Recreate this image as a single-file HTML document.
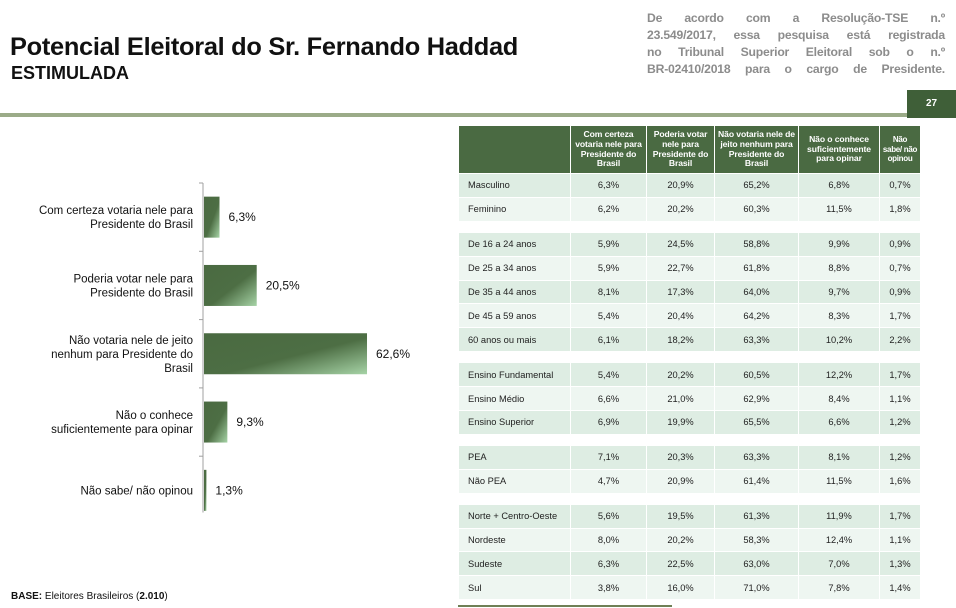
<!DOCTYPE html>
<html><head><meta charset="utf-8">
<style>
body{margin:0;width:956px;height:608px;background:#fff;font-family:"Liberation Sans",sans-serif;position:relative;overflow:hidden}
.abs{position:absolute}
#title{left:10px;top:33px;font-size:25.4px;font-weight:bold;color:#111;letter-spacing:-0.3px}
#sub{left:11px;top:63px;font-size:18px;font-weight:bold;color:#111}
#note{left:647px;top:10px;width:298px;font-size:12.2px;font-weight:bold;color:#8c8c8c;text-align:justify;text-align-last:justify;line-height:17px;letter-spacing:-0.2px}
#pg{left:907px;top:90px;width:49px;height:28px;background:#3f5f38;color:#fff;font-size:10px;font-weight:bold;text-align:center;line-height:28px}
#rule{left:0;top:113px;width:907px;height:4px;background:#9bab88}
table{position:absolute;left:458px;top:125px;border-collapse:separate;border-spacing:1px 1.6px;font-size:9.3px;color:#222}
th{background:#4a6a42;color:#fff;font-weight:bold;font-size:8.6px;line-height:9.6px;height:47px;padding:0 1px;text-align:center;letter-spacing:-0.1px}
th.last{font-size:8px;padding:0;letter-spacing:-0.3px}
td{height:22.9px;padding:0;text-align:center}
td.l{text-align:left;padding-left:9px}
tr.d td{background:#deede3}
tr.w td{background:#eef6f1}
tr.g td{height:10px;background:#fff}
</style></head><body>
<div id="title" class="abs">Potencial Eleitoral do Sr. Fernando Haddad</div>
<div id="sub" class="abs">ESTIMULADA</div>
<div id="note" class="abs">De acordo com a Resolução-TSE n.º<br>23.549/2017, essa pesquisa está registrada<br>no Tribunal Superior Eleitoral sob o n.º<br>BR-02410/2018 para o cargo de Presidente.</div>
<div id="pg" class="abs">27</div>
<div id="rule" class="abs"></div>

<svg class="abs" style="left:0;top:0" width="456" height="608">
<defs><linearGradient id="gr" x1="0" y1="0" x2="1" y2="1">
<stop offset="0" stop-color="#4a6a41"/><stop offset="0.55" stop-color="#4d6e44"/><stop offset="1" stop-color="#a6d3a6"/></linearGradient></defs>
<g id="chart"></g>
</svg>
<div class="abs" style="left:11px;top:591px;font-size:10px;color:#111"><b>BASE:</b> Eleitores Brasileiros (<b>2.010</b>)</div>

<table>
<tr><th style="width:109px;text-align:left"></th><th style="width:73px">Com certeza votaria nele para Presidente do Brasil</th><th style="width:65px">Poderia votar nele para Presidente do Brasil</th><th style="width:81px">Não votaria nele de jeito nenhum para Presidente do Brasil</th><th style="width:78px">Não o conhece suficientemente para opinar</th><th class="last" style="width:40px">Não<br>sabe/ não<br>opinou</th></tr>
<tbody id="tb"></tbody>
</table>
<div class="abs" style="left:458px;top:605px;width:214px;height:2px;background:#6f7f55"></div>

<script>
const categories=["Com certeza votaria nele para|Presidente do Brasil","Poderia votar nele para|Presidente do Brasil","Não votaria nele de jeito|nenhum para Presidente do|Brasil","Não o conhece|suficientemente para opinar","Não sabe/ não opinou"];
const values=[6.3,20.5,62.6,9.3,1.3];
const valueLabels=["6,3%","20,5%","62,6%","9,3%","1,3%"];
const rowLabels=["Masculino","Feminino","","De 16 a 24 anos","De 25 a 34 anos","De 35 a 44 anos","De 45 a 59 anos","60 anos ou mais","","Ensino Fundamental","Ensino Médio","Ensino Superior","","PEA","Não PEA","","Norte + Centro-Oeste","Nordeste","Sudeste","Sul"];
const rowValues=[["6,3%","20,9%","65,2%","6,8%","0,7%"],["6,2%","20,2%","60,3%","11,5%","1,8%"],null,
["5,9%","24,5%","58,8%","9,9%","0,9%"],["5,9%","22,7%","61,8%","8,8%","0,7%"],["8,1%","17,3%","64,0%","9,7%","0,9%"],["5,4%","20,4%","64,2%","8,3%","1,7%"],["6,1%","18,2%","63,3%","10,2%","2,2%"],null,
["5,4%","20,2%","60,5%","12,2%","1,7%"],["6,6%","21,0%","62,9%","8,4%","1,1%"],["6,9%","19,9%","65,5%","6,6%","1,2%"],null,
["7,1%","20,3%","63,3%","8,1%","1,2%"],["4,7%","20,9%","61,4%","11,5%","1,6%"],null,
["5,6%","19,5%","61,3%","11,9%","1,7%"],["8,0%","20,2%","58,3%","12,4%","1,1%"],["6,3%","22,5%","63,0%","7,0%","1,3%"],["3,8%","16,0%","71,0%","7,8%","1,4%"]];

const NS="http://www.w3.org/2000/svg";
const g=document.getElementById('chart');
const x0=203, pxPer=2.62, top0=183, band=68.3, bh=41;
const xs=v=>x0+v*pxPer;
const yc=i=>top0+band*(i+0.5);
function mk(t,a){const e=document.createElementNS(NS,t);for(const k in a)e.setAttribute(k,a[k]);g.appendChild(e);return e;}
const ax=mk('line',{x1:x0,y1:top0,x2:x0,y2:top0+band*values.length-12,stroke:'#a0a0a0','stroke-width':1});


for(let i=0;i<=values.length-1;i++){
  const t=mk('line',{x1:x0-4,y1:top0+band*i,x2:x0,y2:top0+band*i,stroke:'#a0a0a0'});
  
  
}
values.forEach((v,i)=>{
  const r=mk('rect',{x:x0+1,y:yc(i)-bh/2,width:xs(v)-x0-1,height:bh,fill:'url(#gr)'});
  
  
  const t=mk('text',{x:xs(v)+9,y:yc(i)+4,'font-size':12,fill:'#111','font-family':'Liberation Sans, sans-serif'});
  t.textContent=valueLabels[i];
  
  
  const lines=categories[i].split('|');
  lines.forEach((ln,j)=>{
    const c=mk('text',{x:193,y:yc(i)+4+(j-(lines.length-1)/2)*14,'font-size':11.5,fill:'#111','text-anchor':'end','font-family':'Liberation Sans, sans-serif'});
    c.textContent=ln;
    
    
  });
});

const tb=document.getElementById('tb');
let k=0;
rowLabels.forEach((lab,i)=>{
  const tr=document.createElement('tr');
  if(rowValues[i]===null){tr.className='g';tr.innerHTML='<td colspan="6"></td>';k=0;}
  else{
    tr.className=(k%2===0)?'d':'w';k++;
    tr.innerHTML='<td class="l">'+lab+'</td>'+rowValues[i].map(v=>'<td>'+v+'</td>').join('');
    
    
  }
  tb.appendChild(tr);
});
</script>
</body></html>
